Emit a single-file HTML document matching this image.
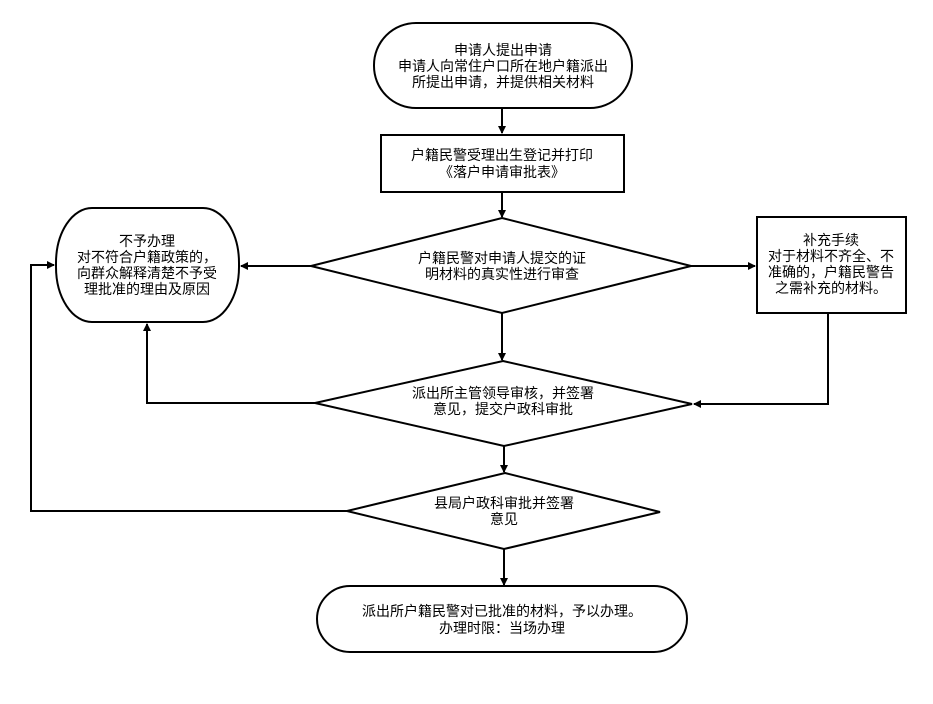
<!DOCTYPE html>
<html><head><meta charset="utf-8"><style>
html,body{margin:0;padding:0;background:#fff;}
svg text{font-family:"Liberation Sans","Noto Sans CJK SC",sans-serif;font-size:14px;fill:#000;text-anchor:middle;}
</style></head><body>
<svg width="933" height="699" viewBox="0 0 933 699" xmlns="http://www.w3.org/2000/svg">
<defs><marker id="a" markerWidth="8" markerHeight="8" refX="7" refY="4" orient="auto" markerUnits="userSpaceOnUse"><path d="M0,0 L8,4 L0,8 Z" fill="#000"/></marker></defs>
<g stroke="#000" stroke-width="2" fill="none">
<rect x="374" y="23" width="258" height="85" rx="42" ry="42"/>
<rect x="381" y="135" width="243" height="57"/>
<polygon points="502,218 691,266 502,313 311,266"/>
<rect x="56" y="208" width="183" height="114" rx="36" ry="55"/>
<rect x="757" y="217" width="149" height="96"/>
<polygon points="503,361 692,404 504,446 315,403"/>
<polygon points="505,473 660,512 504,549 347,511"/>
<rect x="317" y="586" width="370" height="66" rx="33" ry="33"/>
<g marker-end="url(#a)">
<line x1="502" y1="108" x2="502" y2="133"/>
<line x1="502" y1="192" x2="502" y2="217"/>
<line x1="311" y1="266" x2="241" y2="266"/>
<line x1="691" y1="266" x2="755" y2="266"/>
<line x1="502" y1="313" x2="502" y2="360"/>
<line x1="504" y1="446" x2="504" y2="472"/>
<line x1="504" y1="549" x2="504" y2="585"/>
<polyline points="315,403 147,403 147,324"/>
<polyline points="828,313 828,404 694,404"/>
<polyline points="347,511 31,511 31,265 54,265"/>
</g>
</g>
<text x="503" y="55">申请人提出申请</text>
<text x="503" y="71">申请人向常住户口所在地户籍派出</text>
<text x="503" y="87">所提出申请，并提供相关材料</text>
<text x="502" y="160">户籍民警受理出生登记并打印</text>
<text x="502" y="177">《落户申请审批表》</text>
<text x="502" y="263">户籍民警对申请人提交的证</text>
<text x="502" y="279">明材料的真实性进行审查</text>
<text x="147" y="246">不予办理</text>
<text x="147" y="262">对不符合户籍政策的，</text>
<text x="147" y="278">向群众解释清楚不予受</text>
<text x="147" y="294">理批准的理由及原因</text>
<text x="831" y="245">补充手续</text>
<text x="831" y="261">对于材料不齐全、不</text>
<text x="831" y="277">准确的，户籍民警告</text>
<text x="831" y="293">之需补充的材料。</text>
<text x="503" y="398">派出所主管领导审核，并签署</text>
<text x="503" y="414">意见，提交户政科审批</text>
<text x="504" y="508">县局户政科审批并签署</text>
<text x="504" y="524">意见</text>
<text x="502" y="616">派出所户籍民警对已批准的材料，予以办理。</text>
<text x="502" y="633">办理时限：当场办理</text>
</svg>
</body></html>
